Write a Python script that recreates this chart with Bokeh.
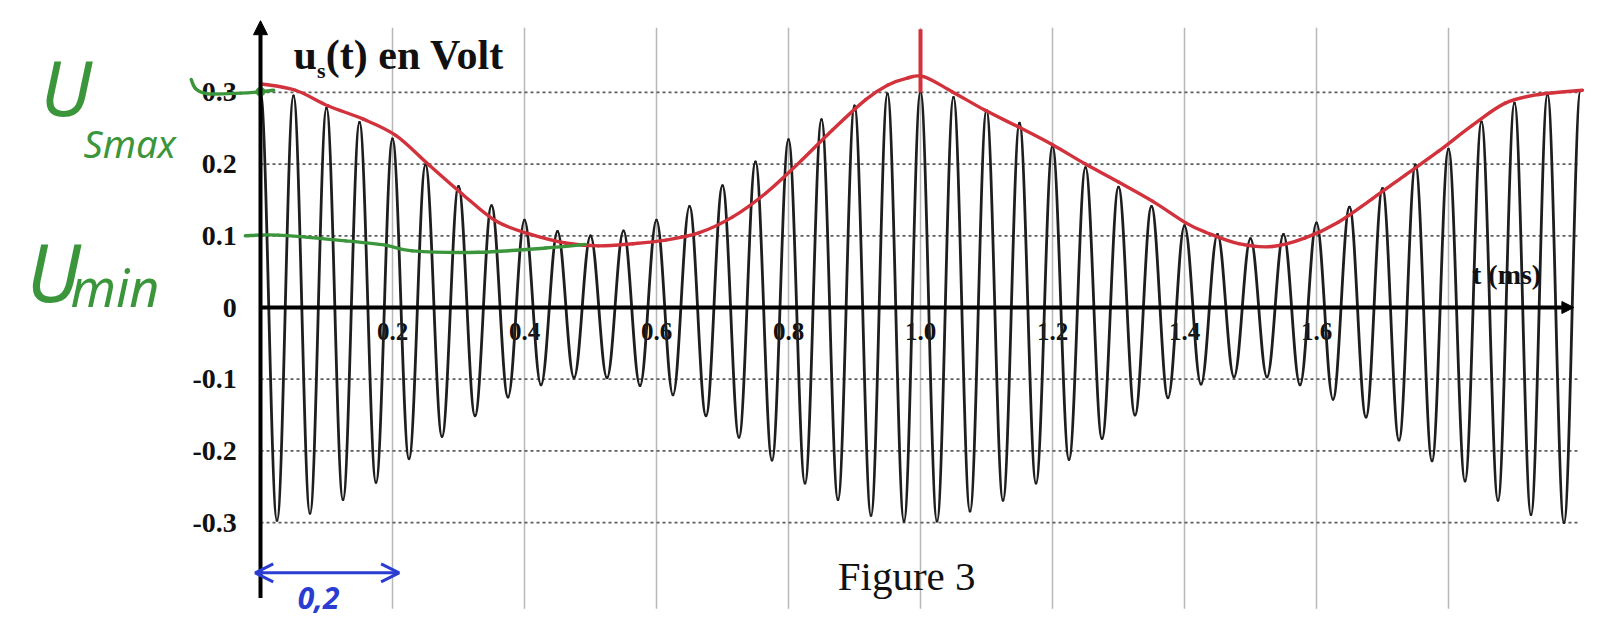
import numpy as np
from bokeh.plotting import figure
from bokeh.models import Range1d, Arrow, NormalHead, OpenHead, ColumnDataSource
from bokeh.core.properties import value
from bokeh.embed import file_html
from bokeh.resources import INLINE

# ---------------- data ----------------
# carrier crest times (ms) and crest values (V)
peak_t = [0.00, 0.05, 0.10, 0.15, 0.20, 0.25, 0.30, 0.35, 0.40, 0.45,
          0.50, 0.55, 0.60, 0.65, 0.70, 0.75, 0.80, 0.85, 0.90, 0.95,
          1.00, 1.05, 1.10, 1.15, 1.20, 1.25, 1.30, 1.35, 1.40, 1.45,
          1.50, 1.55, 1.60, 1.65, 1.70, 1.75, 1.80, 1.85, 1.90, 1.95, 2.00]
peak_v = [0.300, 0.295, 0.278, 0.258, 0.235, 0.199, 0.169, 0.142, 0.122, 0.106,
          0.100, 0.107, 0.122, 0.141, 0.170, 0.203, 0.234, 0.262, 0.281, 0.298,
          0.301, 0.293, 0.275, 0.257, 0.225, 0.195, 0.168, 0.141, 0.114, 0.102,
          0.096, 0.102, 0.118, 0.140, 0.166, 0.199, 0.221, 0.259, 0.285, 0.297, 0.302]
# carrier trough times (ms) and trough values (V)
trough_t = [0.025, 0.075, 0.125, 0.175, 0.225, 0.275, 0.325, 0.375, 0.425, 0.475,
            0.525, 0.575, 0.625, 0.675, 0.725, 0.775, 0.825, 0.875, 0.925, 0.975,
            1.025, 1.075, 1.125, 1.175, 1.225, 1.275, 1.325, 1.375, 1.425, 1.475,
            1.525, 1.575, 1.625, 1.675, 1.725, 1.775, 1.825, 1.875, 1.925, 1.975]
trough_v = [-0.297, -0.287, -0.268, -0.244, -0.211, -0.180, -0.151, -0.125, -0.108, -0.098,
            -0.098, -0.109, -0.122, -0.151, -0.181, -0.213, -0.245, -0.268, -0.290, -0.298,
            -0.298, -0.284, -0.269, -0.245, -0.212, -0.183, -0.150, -0.126, -0.107, -0.097,
            -0.097, -0.108, -0.128, -0.153, -0.185, -0.214, -0.242, -0.269, -0.289, -0.300]

# hand-drawn red envelope
env_t = [0.000, 0.053, 0.103, 0.155, 0.205, 0.255, 0.306, 0.356, 0.406, 0.462,
         0.512, 0.564, 0.614, 0.664, 0.715, 0.765, 0.815, 0.867, 0.917, 0.950,
         0.980, 1.005, 1.048, 1.098, 1.148, 1.200, 1.250, 1.300, 1.352, 1.402,
         1.432, 1.482, 1.533, 1.583, 1.633, 1.685, 1.735, 1.785, 1.836, 1.886,
         1.936, 2.003]
env_v = [0.312, 0.303, 0.281, 0.263, 0.240, 0.199, 0.158, 0.121, 0.103, 0.090,
         0.086, 0.089, 0.094, 0.104, 0.126, 0.159, 0.201, 0.248, 0.290, 0.310,
         0.320, 0.322, 0.301, 0.275, 0.252, 0.227, 0.200, 0.175, 0.148, 0.118,
         0.105, 0.089, 0.085, 0.097, 0.119, 0.152, 0.185, 0.218, 0.254, 0.285,
         0.297, 0.303]
# hand-drawn green line near 0.1
gmin_t = [-0.023, 0.027, 0.129, 0.189, 0.230, 0.330, 0.432, 0.492]
gmin_v = [0.100, 0.101, 0.093, 0.087, 0.079, 0.077, 0.083, 0.088]
# hand-drawn green stroke under 0.3
gmax_t = [-0.105, -0.098, -0.080, -0.030, 0.000, 0.020]
gmax_v = [0.318, 0.305, 0.298, 0.299, 0.301, 0.303]
# red mark at t = 1.0
mark_t = [1.0]
mark_v0 = [0.300]
mark_v1 = [0.388]
# blue double arrow (0 -> 0.2 ms)
arrow_t = [-0.008, 0.210]
arrow_v = -0.370

# ticks
y_ticks = [0.3, 0.2, 0.1, 0.0, -0.1, -0.2, -0.3]
y_tick_labels = ["0.3", "0.2", "0.1", "0", "-0.1", "-0.2", "-0.3"]
x_ticks = [0.2, 0.4, 0.6, 0.8, 1.0, 1.2, 1.4, 1.6]
x_tick_labels = ["0.2", "0.4", "0.6", "0.8", "1.0", "1.2", "1.4", "1.6"]
x_grid = [0.2, 0.4, 0.6, 0.8, 1.0, 1.2, 1.4, 1.6, 1.8]
y_grid = [0.3, 0.2, 0.1, -0.1, -0.2, -0.3]

# ---------------- style ----------------
RED = "#d2323c"
GREEN = "#3b963b"
BLUE = "#2a3cd2"
INK = "#1e1e1e"
SERIF = value("Liberation Serif")
HAND = value("Noto Sans")

W, H = 1600, 624
PX_PER_MS = 660.0
PX_PER_V = 717.0
X0_PX, Y0_PX = 260.0, 307.0

p = figure(width=W, height=H,
           x_range=Range1d(-X0_PX / PX_PER_MS, (W - X0_PX) / PX_PER_MS),
           y_range=Range1d(-(H - Y0_PX) / PX_PER_V, Y0_PX / PX_PER_V),
           output_backend="svg", toolbar_location=None,
           x_axis_type=None, y_axis_type=None, min_border=0,
           outline_line_color=None, background_fill_color="white",
           border_fill_color="white")
p.grid.visible = False


def smooth_source(t, v):
    """Catmull-Rom curve through the read points, as cubic Bezier pieces."""
    t = np.asarray(t, float)
    v = np.asarray(v, float)
    n = len(t)
    d = dict(x0=[], y0=[], x1=[], y1=[], cx0=[], cy0=[], cx1=[], cy1=[])
    for i in range(n - 1):
        a = max(i - 1, 0)
        b = min(i + 2, n - 1)
        d["x0"].append(t[i]); d["y0"].append(v[i])
        d["x1"].append(t[i + 1]); d["y1"].append(v[i + 1])
        d["cx0"].append(t[i] + (t[i + 1] - t[a]) / 6.0)
        d["cy0"].append(v[i] + (v[i + 1] - v[a]) / 6.0)
        d["cx1"].append(t[i + 1] - (t[b] - t[i]) / 6.0)
        d["cy1"].append(v[i + 1] - (v[b] - v[i]) / 6.0)
    return ColumnDataSource(d)


BZ = dict(x0="x0", y0="y0", x1="x1", y1="y1", cx0="cx0", cy0="cy0", cx1="cx1", cy1="cy1")

# vertical light grid
p.segment(x0=x_grid, y0=[-0.42] * len(x_grid), x1=x_grid, y1=[0.39] * len(x_grid),
          line_color="#b8b8b8", line_width=1.5)
# horizontal dotted grid
p.segment(x0=[0.0] * len(y_grid), y0=y_grid, x1=[2.0] * len(y_grid), y1=y_grid,
          line_color="#5e5e5e", line_width=1.7, line_dash="3 3")

# x tick labels (under the signal, as in the print)
p.text(x=x_ticks, y=[-0.034] * len(x_ticks), text=x_tick_labels,
       text_font=SERIF, text_font_style="bold", text_font_size="25px",
       text_align="center", text_baseline="middle", text_color="#111111")

# carrier signal: half-cosine arcs between successive crest/trough values
seq_t, seq_v = [], []
for i in range(len(trough_t)):
    seq_t += [peak_t[i], trough_t[i]]
    seq_v += [peak_v[i], trough_v[i]]
seq_t.append(peak_t[-1])
seq_v.append(peak_v[-1])
st = np.array(seq_t)
sv = np.array(seq_v)
c = 1.0 - 2.0 / np.pi
x0, x1 = st[:-1], st[1:]
y0, y1 = sv[:-1], sv[1:]
src = ColumnDataSource(dict(x0=x0, y0=y0, x1=x1, y1=y1,
                            cx0=x0 + c * (x1 - x0), cy0=y0,
                            cx1=x1 - c * (x1 - x0), cy1=y1))
p.bezier(source=src, line_color=INK, line_width=2.8, line_cap="round", **BZ)

# axes with arrows
p.add_layout(Arrow(end=NormalHead(size=14, fill_color="black", line_color="black"),
                   x_start=0.0, y_start=-0.405, x_end=0.0, y_end=0.400,
                   line_color="black", line_width=4))
p.add_layout(Arrow(end=NormalHead(size=12, fill_color="black", line_color="black"),
                   x_start=0.0, y_start=0.0, x_end=1.99, y_end=0.0,
                   line_color="black", line_width=4))

# y tick labels
p.text(x=[-0.036] * len(y_ticks), y=y_ticks, text=y_tick_labels,
       text_font=SERIF, text_font_style="bold", text_font_size="28px",
       text_align="right", text_baseline="middle", text_color="#111111")

# axis titles
p.text(x=[0.050], y=[0.352], text=["u"], text_font=SERIF, text_font_style="bold",
       text_font_size="42px", text_baseline="middle", text_color="#111111")
p.text(x=[0.0855], y=[0.330], text=["s"], text_font=SERIF, text_font_style="bold",
       text_font_size="22px", text_baseline="middle", text_color="#111111")
p.text(x=[0.099], y=[0.352], text=["(t) en Volt"], text_font=SERIF, text_font_style="bold",
       text_font_size="42px", text_baseline="middle", text_color="#111111")
p.text(x=[1.888], y=[0.046], text=["t (ms)"], text_font=SERIF, text_font_style="bold",
       text_font_size="28px", text_align="center", text_baseline="middle",
       text_color="#111111")
p.text(x=[0.979], y=[-0.375], text=["Figure 3"], text_font=SERIF,
       text_font_size="41px", text_align="center", text_baseline="middle",
       text_color="#111111")

# hand annotations
p.bezier(source=smooth_source(env_t, env_v), line_color=RED, line_width=3.4,
         line_cap="round", **BZ)
p.segment(x0=mark_t, y0=mark_v0, x1=mark_t, y1=mark_v1, line_color=RED, line_width=4)
p.bezier(source=smooth_source(gmin_t, gmin_v), line_color=GREEN, line_width=3.4,
         line_cap="round", **BZ)
p.bezier(source=smooth_source(gmax_t, gmax_v), line_color=GREEN, line_width=3.4,
         line_cap="round", **BZ)
p.scatter(x=[0.0], y=[0.301], size=9, color=GREEN)

p.text(x=[-0.3333], y=[0.308], text=["U"], text_font=HAND, text_font_style="italic",
       text_font_size="76px", text_baseline="middle", text_color=GREEN)
p.text(x=[-0.2682], y=[0.229], text=["Smax"], text_font=HAND, text_font_style="italic",
       text_font_size="38px", text_baseline="middle", text_color=GREEN)
p.text(x=[-0.3545], y=[0.052], text=["U"], text_font=HAND, text_font_style="italic",
       text_font_size="80px", text_baseline="middle", text_color=GREEN)
p.text(x=[-0.2880], y=[0.029], text=["min"], text_font=HAND, text_font_style="italic",
       text_font_size="52px", text_baseline="middle", text_color=GREEN)

p.add_layout(Arrow(start=OpenHead(size=18, line_color=BLUE, line_width=3),
                   end=OpenHead(size=18, line_color=BLUE, line_width=3),
                   x_start=arrow_t[0], y_start=arrow_v, x_end=arrow_t[1], y_end=arrow_v,
                   line_color=BLUE, line_width=3))
p.text(x=[0.088], y=[-0.4045], text=["0,2"], text_font=HAND, text_font_style="bold italic",
       text_font_size="30px", text_align="center", text_baseline="middle",
       text_color=BLUE)

open("out.html", "w").write(file_html(p, INLINE))
